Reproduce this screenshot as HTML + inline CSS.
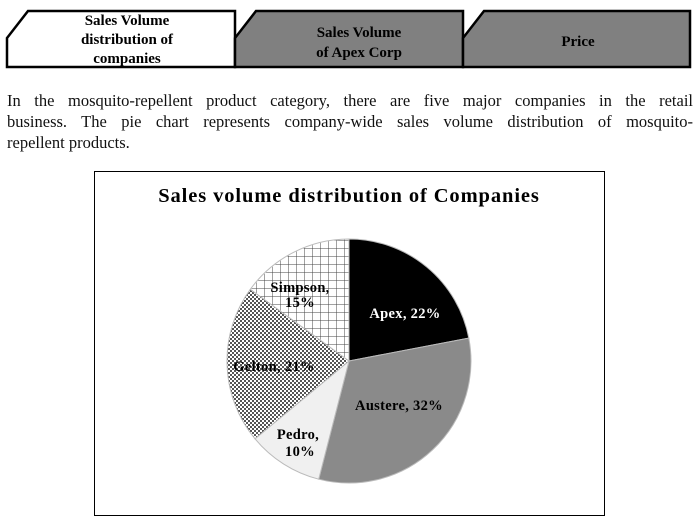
<!DOCTYPE html>
<html><head><style>
body{margin:0;width:700px;height:520px;background:#fff;overflow:hidden;position:relative;font-family:"Liberation Serif",serif}
.l{position:absolute;left:7px;width:686px;margin:0;font-size:16.5px;line-height:21px;color:#111;text-align:justify;text-align-last:justify;white-space:nowrap}
</style></head><body>
<svg width="700" height="90" style="position:absolute;left:0;top:0">
<g stroke="#000" stroke-width="2.5">
<polygon points="28,11 235,11 235,67 7,67 7,38" fill="#fff"/>
<polygon points="256,11 463,11 463,67 235,67 235,38" fill="#808080"/>
<polygon points="484,11 690,11 690,67 463,67 463,38" fill="#808080"/>
</g>
<g font-family="Liberation Serif,serif" font-weight="bold" font-size="15" text-anchor="middle" fill="#000">
<text x="127" y="25">Sales Volume</text>
<text x="127" y="44">distribution of</text>
<text x="127" y="63">companies</text>
<text x="359" y="37">Sales Volume</text>
<text x="359" y="57">of Apex Corp</text>
<text x="578" y="46">Price</text>
</g>
</svg>
<div class="l" style="top:90px">In the mosquito-repellent product category, there are five major companies in the retail</div>
<div class="l" style="top:111px">business. The pie chart represents company-wide sales volume distribution of mosquito-</div>
<div class="l" style="top:132px;text-align:left;text-align-last:left">repellent products.</div>
<svg width="700" height="520" style="position:absolute;left:0;top:0">
<defs>
<pattern id="grid" width="8" height="8" patternUnits="userSpaceOnUse"><rect width="8" height="8" fill="#fff"/><path d="M0 0H8M0 0V8" stroke="#444" stroke-width="1"/></pattern>
<pattern id="chk" width="4" height="4" patternUnits="userSpaceOnUse"><rect width="4" height="4" fill="#fff"/><rect width="2" height="2" fill="#555"/><rect x="2" y="2" width="2" height="2" fill="#555"/></pattern>
</defs>
<rect x="94.5" y="171.5" width="510" height="344" fill="#fff" stroke="#000" stroke-width="1"/>
<text x="349" y="202" text-anchor="middle" font-family="Liberation Serif,serif" font-weight="bold" font-size="20.5" letter-spacing="0.9">Sales volume distribution of Companies</text>
<g stroke="#bbb" stroke-width="1">
<path d="M349,361 L349,239 A122,122 0 0 1 468.8,338.1 Z" fill="#000"/>
<path d="M349,361 L468.8,338.1 A122,122 0 0 1 318.7,479.2 Z" fill="#8a8a8a"/>
<path d="M349,361 L318.7,479.2 A122,122 0 0 1 255,438.8 Z" fill="#f0f0f0"/>
<path d="M349,361 L255,438.8 A122,122 0 0 1 250.3,289.3 Z" fill="url(#chk)"/>
<path d="M349,361 L250.3,289.3 A122,122 0 0 1 349,239 Z" fill="url(#grid)"/>
</g>
<g font-family="Liberation Serif,serif" font-weight="bold" font-size="14.5" text-anchor="middle" letter-spacing="0.3">
<text x="405" y="318" fill="#fff">Apex, 22%</text>
<text x="399" y="410">Austere, 32%</text>
<text x="298" y="439">Pedro,</text><text x="300" y="456">10%</text>
<text x="274" y="371">Gelton, 21%</text>
<text x="300" y="292">Simpson,</text><text x="300" y="307">15%</text>
</g>
</svg>
</body></html>
